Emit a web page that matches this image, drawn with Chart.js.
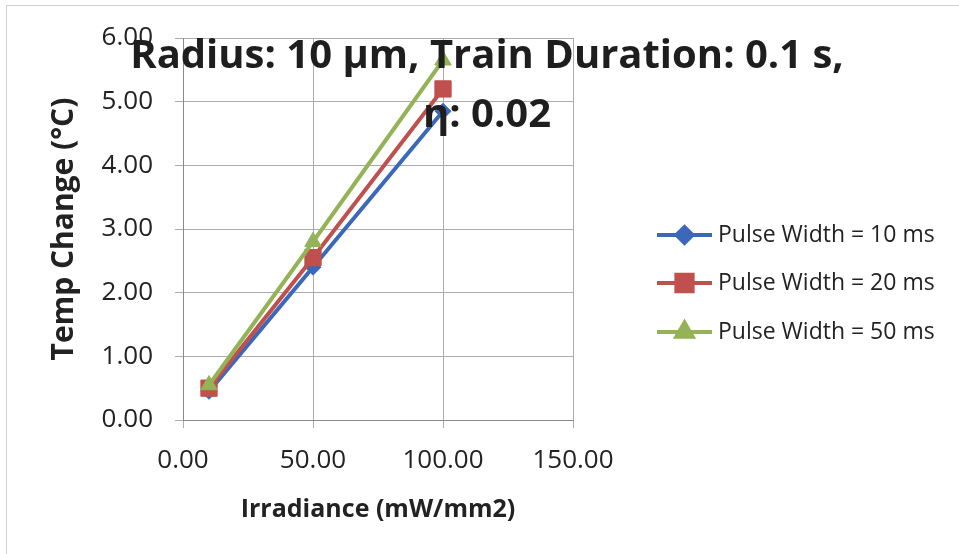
<!DOCTYPE html>
<html>
<head>
<meta charset="utf-8">
<script src="https://cdn.jsdelivr.net/npm/chart.js@4/dist/chart.umd.min.js"></script>
<style>
  html, body { margin: 0; padding: 0; background: #fff; }
  #wrap { position: relative; width: 959px; height: 554px; }
  #frame { position: absolute; left: 6px; top: 5px; right: 0; bottom: 0;
           border-left: 1px solid #d0d0d0; border-top: 1px solid #d0d0d0; }
  canvas { position: absolute; left: 0; top: 0; }
</style>
</head>
<body>
<div id="wrap">
  <div id="frame"></div>
  <canvas id="tempChart" width="959" height="554"></canvas>
</div>
<script>
// irradiance values (mW/mm2)
var irradiance = [10, 50, 100];

// temperature change (°C) per pulse width
var pw10 = [0.45, 2.40, 4.85];
var pw20 = [0.50, 2.55, 5.20];
var pw50 = [0.55, 2.80, 5.65];

var seriesNames = ["Pulse Width = 10 ms", "Pulse Width = 20 ms", "Pulse Width = 50 ms"];
var titleLines = ["Radius: 10 µm, Train Duration: 0.1 s,", "η: 0.02"];

var xTicks = [0, 50, 100, 150];
var yTicks = [0, 1, 2, 3, 4, 5, 6];

var fontFam = "'Open Sans', Lato, sans-serif";
var gridGray = "#ababab";

function toPoints(ys) {
  return irradiance.map(function (x, i) {
    return { x: x, y: ys[i] };
  });
}

function makeSeries(label, ys, color, style, radius, order) {
  return {
    label: label,
    data: toPoints(ys),
    showLine: true,
    borderColor: color,
    backgroundColor: color,
    borderWidth: 4,
    pointStyle: style,
    pointRadius: radius,
    pointHoverRadius: radius,
    pointBorderWidth: 1,
    tension: 0,
    order: order,
  };
}

// title sits over the plot, like the original sheet
const overlayTitle = {
  id: "overlayTitle",
  afterDraw(chart) {
    const ctx = chart.ctx;
    ctx.save();
    ctx.fillStyle = "#1e1e1e";
    ctx.font = "bold 40px " + fontFam;
    ctx.textAlign = "center";
    ctx.textBaseline = "middle";
    ctx.fillText(titleLines[0], 487, 57);
    ctx.fillText(titleLines[1], 487, 116);
    ctx.restore();
  },
};

// legend with line + marker swatches
const lineLegend = {
  id: "lineLegend",
  afterDraw(chart) {
    const ctx = chart.ctx;
    const x0 = 657, x1 = 712;
    const rows = [235, 283, 332];
    ctx.save();
    chart.data.datasets.forEach(function (ds, i) {
      const y = rows[i];
      ctx.strokeStyle = ds.borderColor;
      ctx.lineWidth = ds.borderWidth;
      ctx.beginPath();
      ctx.moveTo(x0, y);
      ctx.lineTo(x1, y);
      ctx.stroke();
      ctx.fillStyle = ds.backgroundColor;
      Chart.helpers.drawPoint(ctx, {
        pointStyle: ds.pointStyle,
        radius: ds.pointRadius,
        rotation: 0,
        borderWidth: 1,
      }, (x0 + x1) / 2, y);
      ctx.fillStyle = "#222";
      ctx.font = "23px " + fontFam;
      ctx.textAlign = "left";
      ctx.textBaseline = "middle";
      ctx.fillText(ds.label, x1 + 6, y);
    });
    ctx.restore();
  },
};

const ctx = document.getElementById("tempChart").getContext("2d");

new Chart(ctx, {
  type: "scatter",
  data: {
    datasets: [
      makeSeries(seriesNames[0], pw10, "#3b68bb", "rectRot", 8, 2),
      makeSeries(seriesNames[1], pw20, "#c0504d", "rect", 11.5, 1),
      makeSeries(seriesNames[2], pw50, "#94b356", "triangle", 9.5, 0),
    ],
  },
  options: {
    responsive: false,
    animation: false,
    layout: {
      padding: { left: 42, top: 38, right: 386, bottom: 18 },
    },
    plugins: {
      legend: { display: false },
      tooltip: { enabled: false },
    },
    scales: {
      x: {
        type: "linear",
        min: 0,
        max: 150,
        afterBuildTicks: function (scale) {
          scale.ticks = xTicks.map(function (v) { return { value: v }; });
        },
        afterFit: function (scale) {
          scale.height = 116;
        },
        ticks: {
          padding: 17,
          color: "#222",
          font: { family: fontFam, size: 26 },
          callback: function (v) { return Number(v).toFixed(2); },
        },
        grid: { color: gridGray, tickLength: 8 },
        border: { color: "#8a8a8a" },
        title: {
          display: true,
          text: "Irradiance (mW/mm2)",
          color: "#222",
          font: { family: fontFam, size: 25, weight: "bold" },
          padding: { top: 4, bottom: 11 },
        },
      },
      y: {
        min: 0,
        max: 6,
        afterBuildTicks: function (scale) {
          scale.ticks = yTicks.map(function (v) { return { value: v }; });
        },
        afterFit: function (scale) {
          scale.width = 141;
        },
        ticks: {
          padding: 22,
          color: "#222",
          font: { family: fontFam, size: 26 },
          callback: function (v) { return Number(v).toFixed(2); },
        },
        grid: { color: gridGray, tickLength: 8 },
        border: { color: "#8a8a8a" },
        title: {
          display: true,
          text: "Temp Change (°C)",
          color: "#222",
          font: { family: fontFam, size: 30, weight: "bold" },
          padding: { top: 4, bottom: 20 },
        },
      },
    },
  },
  plugins: [overlayTitle, lineLegend],
});
</script>
</body>
</html>
